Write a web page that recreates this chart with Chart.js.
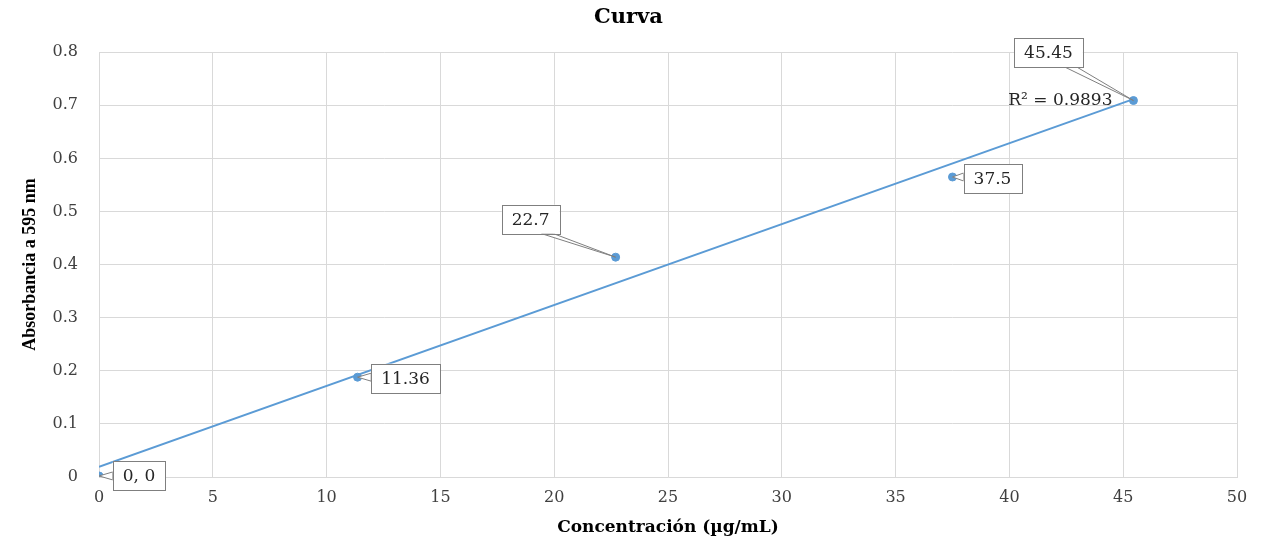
<!DOCTYPE html>
<html>
<head>
<meta charset="utf-8">
<script src="https://cdn.jsdelivr.net/npm/chart.js@4"></script>
<style>
  body { margin: 0; background: #fff; }
  canvas { display: block; }
</style>
</head>
<body>
<canvas id="curva" width="1271" height="541"></canvas>
<script>
// datos
const concentracion = [0, 11.36, 22.7, 37.5, 45.45];
const absorbancia = [0.002, 0.188, 0.414, 0.565, 0.709];
const etiquetas = ['0, 0', '11.36', '22.7', '37.5', '45.45'];
const textoR2 = 'R² = 0.9893';

// desplazamiento del centro de cada cuadro respecto a su punto (px)
const offsetsEtiquetas = [[40, 0], [48, 1], [-85, -38], [40, 2], [-85, -48]];

const azul = '#5b9bd5';
const gris = '#d9d9d9';
const serif = '"DejaVu Serif", "Liberation Serif", serif';
const serifEstrecha = '"Liberation Serif", "DejaVu Serif", serif';

// recta de mínimos cuadrados a partir de los puntos
const n = concentracion.length;
const mx = concentracion.reduce((a, b) => a + b, 0) / n;
const my = absorbancia.reduce((a, b) => a + b, 0) / n;
let sxy = 0, sxx = 0;
for (let i = 0; i < n; i++) {
  sxy += (concentracion[i] - mx) * (absorbancia[i] - my);
  sxx += (concentracion[i] - mx) ** 2;
}
const pendiente = sxy / sxx;
const intercepto = my - pendiente * mx;
const xMax = Math.max(...concentracion);
const tendencia = [
  { x: 0, y: intercepto },
  { x: xMax, y: intercepto + pendiente * xMax }
];

const puntos = concentracion.map((x, i) => ({ x: x, y: absorbancia[i] }));

// cuadros de etiqueta tipo "llamada" de Excel
const callouts = {
  id: 'callouts',
  afterDatasetsDraw(chart) {
    const ctx = chart.ctx;
    const meta = chart.getDatasetMeta(1);
    ctx.save();
    ctx.font = '17px ' + serif;
    ctx.textBaseline = 'middle';
    ctx.textAlign = 'center';
    meta.data.forEach((el, i) => {
      const px = el.x, py = el.y;
      const txt = etiquetas[i];
      const w = ctx.measureText(txt).width + 20;
      const h = 29;
      const cx = px + offsetsEtiquetas[i][0];
      const cy = py + offsetsEtiquetas[i][1];
      const l = cx - w / 2, t = cy - h / 2;
      let b1, b2;
      if (Math.abs(py - cy) > h / 2) {
        // sale por arriba o por abajo
        const ay = py > cy ? t + h : t;
        const xx = Math.max(l + 12, Math.min(l + w - 12, px));
        b1 = [xx - 6, ay]; b2 = [xx + 6, ay];
      } else {
        const ax = px > cx ? l + w : l;
        const yy = Math.max(t + 6, Math.min(t + h - 6, py));
        b1 = [ax, yy - 4]; b2 = [ax, yy + 4];
      }
      ctx.beginPath();
      ctx.moveTo(b1[0], b1[1]);
      ctx.lineTo(px, py);
      ctx.lineTo(b2[0], b2[1]);
      ctx.closePath();
      ctx.fillStyle = '#fff';
      ctx.fill();
      ctx.strokeStyle = '#7f7f7f';
      ctx.lineWidth = 1;
      ctx.stroke();
      ctx.fillRect(l, t, w, h);
      ctx.strokeRect(Math.round(l) + 0.5, Math.round(t) + 0.5, Math.round(w), h);
      ctx.fillStyle = '#262626';
      ctx.fillText(txt, cx, cy + 1);
    });
    // R²
    const tm = chart.getDatasetMeta(0).data[1];
    ctx.textAlign = 'right';
    ctx.fillStyle = '#262626';
    ctx.fillText(textoR2, tm.x - 21, tm.y + 1);
    ctx.restore();
  }
};

new Chart(document.getElementById('curva'), {
  type: 'scatter',
  data: {
    datasets: [
      {
        label: 'Lineal',
        data: tendencia,
        showLine: true,
        borderColor: azul,
        borderWidth: 2,
        pointRadius: 0
      },
      {
        label: 'Curva',
        data: puntos,
        backgroundColor: azul,
        borderColor: azul,
        pointRadius: 4,
        pointHoverRadius: 4
      }
    ]
  },
  options: {
    responsive: false,
    animation: false,
    layout: { padding: { left: 20, right: 34, top: 0, bottom: 0 } },
    plugins: {
      legend: { display: false },
      tooltip: { enabled: false },
      title: {
        display: true,
        text: 'Curva',
        color: '#000',
        font: { family: serif, size: 21, weight: 'bold' },
        padding: { top: 5, bottom: 22 }
      }
    },
    scales: {
      x: {
        type: 'linear',
        min: 0,
        max: 50,
        ticks: {
          stepSize: 5,
          padding: 11,
          color: '#404040',
          font: { family: serif, size: 16 }
        },
        grid: { color: gris, drawTicks: false },
        border: { color: gris },
        title: {
          display: true,
          text: 'Concentración (µg/mL)',
          color: '#000',
          font: { family: serif, size: 17, weight: 'bold' },
          padding: { top: 0, bottom: 3 }
        },
        afterFit(scale) { scale.height = 64; }
      },
      y: {
        min: 0,
        max: 0.8,
        ticks: {
          stepSize: 0.1,
          padding: 21,
          color: '#404040',
          font: { family: serif, size: 16 }
        },
        grid: { color: gris, drawTicks: false },
        border: { color: gris },
        title: {
          display: true,
          text: 'Absorbancia a 595 nm',
          color: '#000',
          font: { family: serifEstrecha, size: 18, weight: 'bold' },
          padding: { top: 0, bottom: 0 }
        },
        afterFit(scale) { scale.width = 79; }
      }
    }
  },
  plugins: [callouts]
});
</script>
</body>
</html>
